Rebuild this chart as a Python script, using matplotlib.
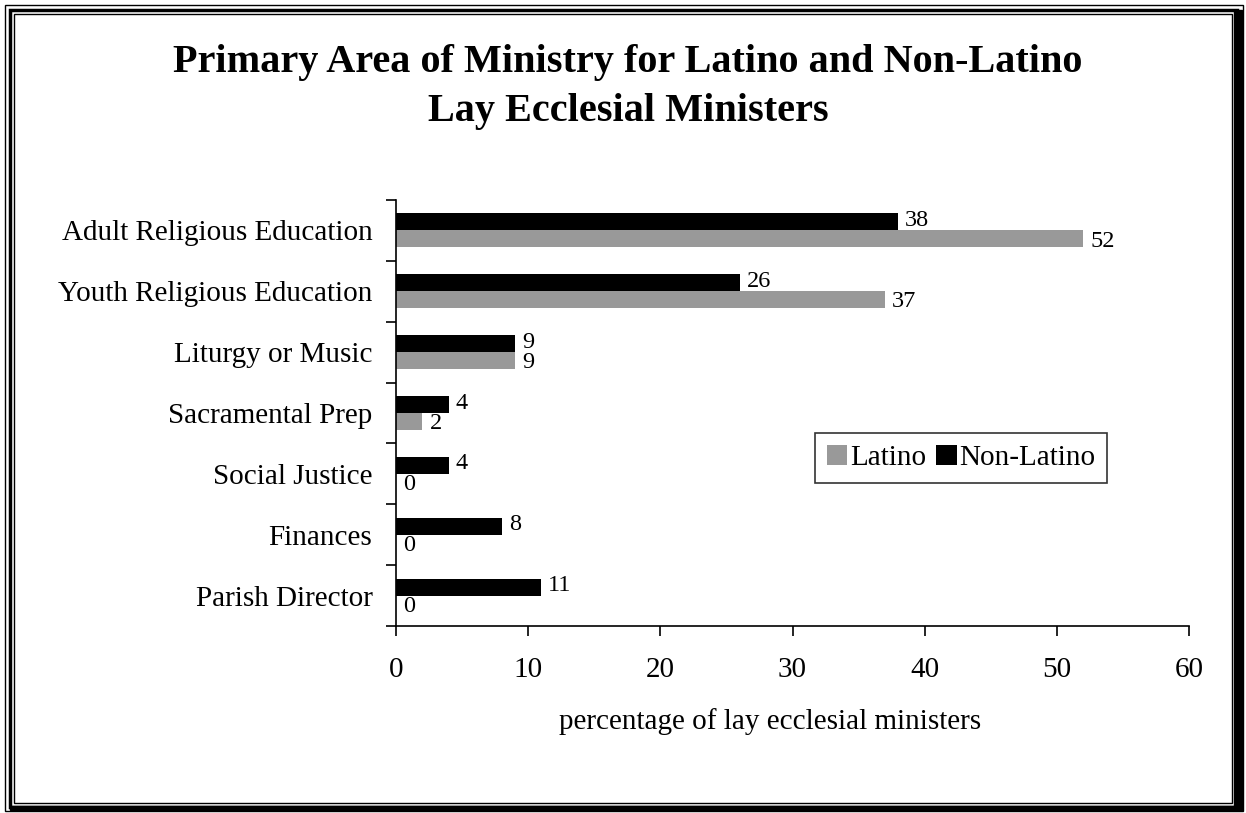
import matplotlib
matplotlib.use("Agg")
import matplotlib.pyplot as plt
from matplotlib.patches import Rectangle, Patch
import numpy as np

categories = ["Adult Religious Education", "Youth Religious Education", "Liturgy or Music",
              "Sacramental Prep", "Social Justice", "Finances", "Parish Director"]
latino = [52, 37, 9, 2, 0, 0, 0]
non_latino = [38, 26, 9, 4, 4, 8, 11]
title = "Primary Area of Ministry for Latino and Non-Latino\nLay Ecclesial Ministers"
xlabel = "percentage of lay ecclesial ministers"
xticks = [0, 10, 20, 30, 40, 50, 60]

plt.rcParams['font.family'] = ['Liberation Serif', 'DejaVu Serif']

W, H = 1246, 813
fig = plt.figure(figsize=(W / 100, H / 100), dpi=100)
ax = fig.add_axes([396 / W, 1 - 626 / H, (1189 - 396) / W, (626 - 200) / H])

y = np.arange(len(categories))
bh = 0.28
gray = "#999999"
ax.barh(y - bh / 2, non_latino, height=bh, color="black", label="Non-Latino")
ax.barh(y + bh / 2, latino, height=bh, color=gray, label="Latino")

for yi, v in zip(y, non_latino):
    ax.annotate(str(v), (v, yi - bh / 2), xytext=(5, 1), textcoords="offset points",
                ha="left", va="center", fontsize=17.5)
for yi, v in zip(y, latino):
    ax.annotate(str(v), (v, yi + bh / 2), xytext=(5, -1.5), textcoords="offset points",
                ha="left", va="center", fontsize=17.5)

ax.set_ylim(len(categories) - 0.5, -0.5)
ax.set_xlim(0, 60)
ax.set_xticks(xticks)
ax.set_xticklabels([str(t) for t in xticks], fontsize=21)
ax.set_yticks(y)
ax.set_yticklabels(categories, fontsize=21)
ax.tick_params(axis="y", length=0, pad=17)
ax.set_yticks(np.arange(len(categories) + 1) - 0.5, minor=True)
ax.tick_params(axis="y", which="minor", length=7, width=1.2)
ax.tick_params(axis="x", length=7, width=1.2, pad=15)
for s in ["top", "right"]:
    ax.spines[s].set_visible(False)
for s in ["left", "bottom"]:
    ax.spines[s].set_linewidth(1.2)

fig.text(770 / W, 1 - 722 / H, xlabel, ha="center", va="center", fontsize=21)

fig.text(628 / W, 1 - 87 / H, title, ha="center", va="center", fontsize=29,
         fontweight="bold", linespacing=1.4)

handles = [Patch(facecolor=gray, label="Latino"), Patch(facecolor="black", label="Non-Latino")]
leg = fig.legend(handles=handles, loc="upper left", bbox_to_anchor=(815 / W, 1 - 433 / H),
                 ncol=2, fontsize=21, frameon=True, fancybox=False, borderaxespad=0,
                 handlelength=0.7, handleheight=0.7, handletextpad=0.1, columnspacing=0.35,
                 borderpad=0.4)
leg.get_frame().set_edgecolor("black")
leg.get_frame().set_linewidth(1.2)

def frect(x0, y0, x1, y1, lw, color="black"):
    fig.patches.append(Rectangle((x0 / W, 1 - y1 / H), (x1 - x0) / W, (y1 - y0) / H,
                                 transform=fig.transFigure, fill=False, lw=lw,
                                 edgecolor=color, zorder=10))

frect(5, 5, 1243, 811, 1.0)
frect(10, 10, 1237, 807, 2.5)
frect(14, 14, 1232, 803, 1.0)
# shadow on right and bottom
fig.patches.append(Rectangle((1234 / W, 1 - 810 / H), 8 / W, (810 - 10) / H,
                             transform=fig.transFigure, color="black", zorder=10))
fig.patches.append(Rectangle((10 / W, 1 - 810 / H), (1242 - 10) / W, 4 / H,
                             transform=fig.transFigure, color="black", zorder=10))

fig.savefig("out.png", dpi=100)
